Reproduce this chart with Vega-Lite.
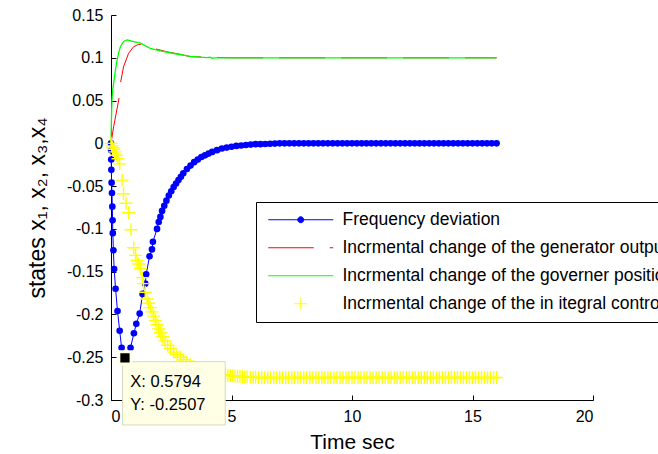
{
  "$schema": "https://vega.github.io/schema/vega-lite/v6.json",
  "autosize": {"type": "none"},
  "width": 482,
  "height": 385,
  "padding": {"left": 111, "top": 15, "right": 65, "bottom": 54},
  "background": "white",
  "config": {
    "font": "Liberation Sans",
    "view": {"stroke": null},
    "axis": {"domainColor": "#000000", "tickColor": "#000000", "labelColor": "#000000", "titleColor": "#000000", "grid": false, "labelFont": "Liberation Sans", "titleFont": "Liberation Sans", "labelFontSize": 16, "titleFontSize": 20, "titleFontWeight": "normal", "tickSize": -5, "domainWidth": 1, "tickWidth": 1}
  },
  "datasets": {
    "freq": [
      {"t": 0, "v": 0}, {"t": 0.005, "v": -0.008}, {"t": 0.01, "v": -0.019}, {"t": 0.015, "v": -0.031},
      {"t": 0.025, "v": -0.046}, {"t": 0.04, "v": -0.058}, {"t": 0.055, "v": -0.074}, {"t": 0.065, "v": -0.09},
      {"t": 0.075, "v": -0.105}, {"t": 0.1, "v": -0.125}, {"t": 0.13, "v": -0.147}, {"t": 0.19, "v": -0.17},
      {"t": 0.27, "v": -0.196}, {"t": 0.36, "v": -0.219}, {"t": 0.44, "v": -0.239}, {"t": 0.5794, "v": -0.2507},
      {"t": 0.81, "v": -0.239}, {"t": 0.95, "v": -0.222}, {"t": 1.05, "v": -0.211}, {"t": 1.19, "v": -0.199},
      {"t": 1.31, "v": -0.176}, {"t": 1.42, "v": -0.164}, {"t": 1.46, "v": -0.153}, {"t": 1.6, "v": -0.132},
      {"t": 1.7, "v": -0.124}, {"t": 1.74, "v": -0.115}, {"t": 1.91, "v": -0.1}, {"t": 1.98, "v": -0.092},
      {"t": 2.05, "v": -0.086}, {"t": 2.12, "v": -0.079}, {"t": 2.21, "v": -0.073}, {"t": 2.3, "v": -0.067},
      {"t": 2.4, "v": -0.061}, {"t": 2.5, "v": -0.056}, {"t": 2.6, "v": -0.051}, {"t": 2.7, "v": -0.047},
      {"t": 2.8, "v": -0.043}, {"t": 2.9, "v": -0.039}, {"t": 3.0, "v": -0.035}, {"t": 3.15, "v": -0.03},
      {"t": 3.3, "v": -0.026}, {"t": 3.45, "v": -0.022}, {"t": 3.6, "v": -0.019}, {"t": 3.75, "v": -0.016},
      {"t": 3.9, "v": -0.014}, {"t": 4.05, "v": -0.012}, {"t": 4.2, "v": -0.01}, {"t": 4.4, "v": -0.008},
      {"t": 4.6, "v": -0.006}, {"t": 4.8, "v": -0.005}, {"t": 5.0, "v": -0.004}, {"t": 5.2, "v": -0.003},
      {"t": 5.4, "v": -0.0025}, {"t": 5.6, "v": -0.002}, {"t": 5.8, "v": -0.0015}, {"t": 6.0, "v": -0.001},
      {"t": 6.2, "v": -0.001}, {"t": 6.4, "v": -0.0008}, {"t": 6.6, "v": -0.0005}, {"t": 6.8, "v": -0.0003},
      {"t": 7.0, "v": 0}, {"t": 7.2, "v": 0}, {"t": 7.4, "v": 0}, {"t": 7.6, "v": 0}, {"t": 7.8, "v": 0},
      {"t": 8.0, "v": 0}, {"t": 8.2, "v": 0}, {"t": 8.4, "v": 0}, {"t": 8.6, "v": 0}, {"t": 8.8, "v": 0},
      {"t": 9.0, "v": 0}, {"t": 9.2, "v": 0}, {"t": 9.4, "v": 0}, {"t": 9.6, "v": 0}, {"t": 9.8, "v": 0},
      {"t": 10.0, "v": 0}, {"t": 10.2, "v": 0}, {"t": 10.4, "v": 0}, {"t": 10.6, "v": 0}, {"t": 10.8, "v": 0},
      {"t": 11.0, "v": 0}, {"t": 11.2, "v": 0}, {"t": 11.4, "v": 0}, {"t": 11.6, "v": 0}, {"t": 11.8, "v": 0},
      {"t": 12.0, "v": 0}, {"t": 12.2, "v": 0}, {"t": 12.4, "v": 0}, {"t": 12.6, "v": 0}, {"t": 12.8, "v": 0},
      {"t": 13.0, "v": 0}, {"t": 13.2, "v": 0}, {"t": 13.4, "v": 0}, {"t": 13.6, "v": 0}, {"t": 13.8, "v": 0},
      {"t": 14.0, "v": 0}, {"t": 14.2, "v": 0}, {"t": 14.4, "v": 0}, {"t": 14.6, "v": 0}, {"t": 14.8, "v": 0},
      {"t": 15.0, "v": 0}, {"t": 15.2, "v": 0}, {"t": 15.4, "v": 0}, {"t": 15.6, "v": 0}, {"t": 15.8, "v": 0},
      {"t": 16.0, "v": 0}
    ],
    "gen": [
      {"t": 0, "v": 0}, {"t": 0.11, "v": 0.0195}, {"t": 0.32, "v": 0.0507}, {"t": 0.39, "v": 0.07},
      {"t": 0.52, "v": 0.0896}, {"t": 0.73, "v": 0.1052}, {"t": 0.94, "v": 0.113}, {"t": 1.15, "v": 0.1157},
      {"t": 1.42, "v": 0.115}, {"t": 1.77, "v": 0.111}, {"t": 2.32, "v": 0.107}, {"t": 2.88, "v": 0.104},
      {"t": 3.29, "v": 0.1013}, {"t": 4.26, "v": 0.1005}, {"t": 5.0, "v": 0.1}, {"t": 16.0, "v": 0.1}
    ],
    "gov": [
      {"t": 0, "v": 0}, {"t": 0.02, "v": 0.03}, {"t": 0.04, "v": 0.0507}, {"t": 0.07, "v": 0.062},
      {"t": 0.11, "v": 0.07}, {"t": 0.18, "v": 0.085}, {"t": 0.25, "v": 0.097}, {"t": 0.32, "v": 0.106},
      {"t": 0.39, "v": 0.113}, {"t": 0.52, "v": 0.119}, {"t": 0.66, "v": 0.1208}, {"t": 0.8, "v": 0.12},
      {"t": 0.94, "v": 0.119}, {"t": 1.22, "v": 0.117}, {"t": 1.63, "v": 0.111}, {"t": 2.05, "v": 0.108},
      {"t": 2.6, "v": 0.105}, {"t": 3.29, "v": 0.1016}, {"t": 3.98, "v": 0.1001}, {"t": 4.1, "v": 0.1006},
      {"t": 4.2, "v": 0.0995}, {"t": 4.3, "v": 0.1}, {"t": 16.0, "v": 0.1}
    ],
    "integ": [
      {"t": 0, "v": 0}, {"t": 0.03, "v": -0.003}, {"t": 0.07, "v": -0.005}, {"t": 0.11, "v": -0.007},
      {"t": 0.16, "v": -0.01}, {"t": 0.22, "v": -0.014}, {"t": 0.29, "v": -0.018}, {"t": 0.36, "v": -0.024},
      {"t": 0.46, "v": -0.043}, {"t": 0.52, "v": -0.059}, {"t": 0.62, "v": -0.07}, {"t": 0.73, "v": -0.081},
      {"t": 0.83, "v": -0.101}, {"t": 0.94, "v": -0.122}, {"t": 1.02, "v": -0.131}, {"t": 1.08, "v": -0.137},
      {"t": 1.15, "v": -0.141}, {"t": 1.22, "v": -0.146}, {"t": 1.3, "v": -0.157}, {"t": 1.35, "v": -0.164},
      {"t": 1.42, "v": -0.174}, {"t": 1.5, "v": -0.182}, {"t": 1.56, "v": -0.187}, {"t": 1.63, "v": -0.192},
      {"t": 1.7, "v": -0.197}, {"t": 1.77, "v": -0.202}, {"t": 1.84, "v": -0.207}, {"t": 1.91, "v": -0.212},
      {"t": 1.98, "v": -0.217}, {"t": 2.05, "v": -0.221}, {"t": 2.15, "v": -0.226}, {"t": 2.25, "v": -0.231},
      {"t": 2.35, "v": -0.236}, {"t": 2.46, "v": -0.24}, {"t": 2.6, "v": -0.244}, {"t": 2.74, "v": -0.247},
      {"t": 2.88, "v": -0.25}, {"t": 3.01, "v": -0.253}, {"t": 3.15, "v": -0.256}, {"t": 3.29, "v": -0.259},
      {"t": 3.4, "v": -0.2605}, {"t": 3.5, "v": -0.262}, {"t": 3.6, "v": -0.2635}, {"t": 3.71, "v": -0.265},
      {"t": 3.8, "v": -0.266}, {"t": 3.9, "v": -0.267}, {"t": 4.0, "v": -0.2675}, {"t": 4.1, "v": -0.268},
      {"t": 4.2, "v": -0.2685}, {"t": 4.33, "v": -0.269}, {"t": 4.45, "v": -0.2695}, {"t": 4.55, "v": -0.27},
      {"t": 4.65, "v": -0.2705}, {"t": 4.75, "v": -0.271}, {"t": 4.85, "v": -0.2712}, {"t": 4.95, "v": -0.2715},
      {"t": 5.05, "v": -0.2717}, {"t": 5.15, "v": -0.272}, {"t": 5.25, "v": -0.2722}, {"t": 5.35, "v": -0.2725},
      {"t": 5.45, "v": -0.2727}, {"t": 5.55, "v": -0.273}, {"t": 5.65, "v": -0.2731}, {"t": 5.78, "v": -0.2733},
      {"t": 5.9, "v": -0.2734}, {"t": 6.0, "v": -0.2735},
      {"t": 6.125, "v": -0.2737}, {"t": 6.25, "v": -0.2737}, {"t": 6.375, "v": -0.2737}, {"t": 6.5, "v": -0.2737},
      {"t": 6.625, "v": -0.2737}, {"t": 6.75, "v": -0.2737}, {"t": 6.875, "v": -0.2737}, {"t": 7.0, "v": -0.2737},
      {"t": 7.125, "v": -0.2737}, {"t": 7.25, "v": -0.2737}, {"t": 7.375, "v": -0.2737}, {"t": 7.5, "v": -0.2737},
      {"t": 7.625, "v": -0.2737}, {"t": 7.75, "v": -0.2737}, {"t": 7.875, "v": -0.2737}, {"t": 8.0, "v": -0.2737},
      {"t": 8.125, "v": -0.2737}, {"t": 8.25, "v": -0.2737}, {"t": 8.375, "v": -0.2737}, {"t": 8.5, "v": -0.2737},
      {"t": 8.625, "v": -0.2737}, {"t": 8.75, "v": -0.2737}, {"t": 8.875, "v": -0.2737}, {"t": 9.0, "v": -0.2737},
      {"t": 9.125, "v": -0.2737}, {"t": 9.25, "v": -0.2737}, {"t": 9.375, "v": -0.2737}, {"t": 9.5, "v": -0.2737},
      {"t": 9.625, "v": -0.2737}, {"t": 9.75, "v": -0.2737}, {"t": 9.875, "v": -0.2737}, {"t": 10.0, "v": -0.2737},
      {"t": 10.125, "v": -0.2737}, {"t": 10.25, "v": -0.2737}, {"t": 10.375, "v": -0.2737}, {"t": 10.5, "v": -0.2737},
      {"t": 10.625, "v": -0.2737}, {"t": 10.75, "v": -0.2737}, {"t": 10.875, "v": -0.2737}, {"t": 11.0, "v": -0.2737},
      {"t": 11.125, "v": -0.2737}, {"t": 11.25, "v": -0.2737}, {"t": 11.375, "v": -0.2737}, {"t": 11.5, "v": -0.2737},
      {"t": 11.625, "v": -0.2737}, {"t": 11.75, "v": -0.2737}, {"t": 11.875, "v": -0.2737}, {"t": 12.0, "v": -0.2737},
      {"t": 12.125, "v": -0.2737}, {"t": 12.25, "v": -0.2737}, {"t": 12.375, "v": -0.2737}, {"t": 12.5, "v": -0.2737},
      {"t": 12.625, "v": -0.2737}, {"t": 12.75, "v": -0.2737}, {"t": 12.875, "v": -0.2737}, {"t": 13.0, "v": -0.2737},
      {"t": 13.125, "v": -0.2737}, {"t": 13.25, "v": -0.2737}, {"t": 13.375, "v": -0.2737}, {"t": 13.5, "v": -0.2737},
      {"t": 13.625, "v": -0.2737}, {"t": 13.75, "v": -0.2737}, {"t": 13.875, "v": -0.2737}, {"t": 14.0, "v": -0.2737},
      {"t": 14.125, "v": -0.2737}, {"t": 14.25, "v": -0.2737}, {"t": 14.375, "v": -0.2737}, {"t": 14.5, "v": -0.2737},
      {"t": 14.625, "v": -0.2737}, {"t": 14.75, "v": -0.2737}, {"t": 14.875, "v": -0.2737}, {"t": 15.0, "v": -0.2737},
      {"t": 15.125, "v": -0.2737}, {"t": 15.25, "v": -0.2737}, {"t": 15.375, "v": -0.2737}, {"t": 15.5, "v": -0.2737},
      {"t": 15.625, "v": -0.2737}, {"t": 15.75, "v": -0.2737}, {"t": 15.875, "v": -0.2737}, {"t": 16.0, "v": -0.2737}
    ],
    "series": [
      {"series": "Frequency deviation"},
      {"series": "Incrmental change of the generator output"},
      {"series": "Incrmental change of the governer position"},
      {"series": "Incrmental change of the in itegral controller"}
    ],
    "tipbox": [{"x": 0.48, "x2": 4.74, "y": -0.2552, "y2": -0.3292}],
    "tippoint": [{"t": 0.5794, "v": -0.2507}],
    "tiptext": [
      {"t": 0.8, "v": -0.2844, "label": "X: 0.5794"},
      {"t": 0.8, "v": -0.3117, "label": "Y: -0.2507"}
    ]
  },
  "encoding": {
    "x": {
      "field": "t", "type": "quantitative",
      "scale": {"domain": [0, 20], "nice": false, "zero": false},
      "axis": {"title": "Time sec", "titleFontSize": 21, "values": [0, 5, 10, 15, 20], "labelPadding": 13, "titlePadding": 7, "labelExpr": "'' + datum.value"}
    },
    "y": {
      "field": "v", "type": "quantitative",
      "scale": {"domain": [-0.3, 0.15], "nice": false, "zero": false},
      "axis": {"title": "states  x₁,  x₂,  x₃,x₄", "titleFontSize": 23, "values": [-0.3, -0.25, -0.2, -0.15, -0.1, -0.05, 0, 0.05, 0.1, 0.15], "labelPadding": 13, "titlePadding": 17, "labelExpr": "'' + datum.value"}
    }
  },
  "layer": [
    {
      "data": {"name": "series"},
      "mark": {"type": "point", "opacity": 0, "filled": true},
      "encoding": {
        "x": {"datum": 0, "type": "quantitative"},
        "y": {"datum": 0, "type": "quantitative"},
        "color": {
          "field": "series", "type": "nominal",
          "scale": {
            "domain": ["Frequency deviation", "Incrmental change of the generator output", "Incrmental change of the governer position", "Incrmental change of the in itegral controller"],
            "range": ["#0000ff", "#ff0000", "#00ff00", "#ffff00"]
          },
          "legend": {
            "title": null,
            "orient": "none",
            "legendX": 145,
            "legendY": 187,
            "strokeColor": "#000000",
            "fillColor": "white",
            "padding": 9,
            "rowPadding": 9,
            "labelFontSize": 17.5,
            "labelFont": "Liberation Sans",
            "labelColor": "#000000",
            "labelLimit": 1000,
            "labelOffset": 33,
            "symbolSize": 169,
            "symbolOffset": 27,
            "symbolOpacity": 1,
            "symbolStrokeWidth": 1,
            "encode": {
              "symbols": {
                "update": {
                  "stroke": {"scale": "color", "field": "value"},
                  "fill": {"scale": "color", "field": "value"},
                  "opacity": {"value": 1},
                  "strokeWidth": {"value": 1}
                }
              }
            }
          }
        },
        "shape": {
          "field": "series", "type": "nominal",
          "scale": {
            "domain": ["Frequency deviation", "Incrmental change of the generator output", "Incrmental change of the governer position", "Incrmental change of the in itegral controller"],
            "range": [
              "M-5,0H5M0.46,0A0.46,0.46,0,1,1,-0.46,0A0.46,0.46,0,1,1,0.46,0Z",
              "M-5,0H2M4.46,0H5",
              "M-5,0H5",
              "M-1,0H1M0,-1V1"
            ]
          }
        }
      }
    },
    {
      "data": {"name": "freq"},
      "mark": {"type": "line", "color": "#0000ff", "strokeWidth": 1},
      "encoding": {}
    },
    {
      "data": {"name": "freq"},
      "mark": {"type": "point", "shape": "circle", "filled": true, "color": "#0000ff", "size": 44, "opacity": 1},
      "encoding": {}
    },
    {
      "data": {"name": "gen"},
      "mark": {"type": "line", "color": "#ff0000", "strokeWidth": 1, "strokeDash": [46, 16]},
      "encoding": {}
    },
    {
      "data": {"name": "gov"},
      "mark": {"type": "line", "color": "#00ff00", "strokeWidth": 1.3},
      "encoding": {}
    },
    {
      "data": {"name": "integ"},
      "mark": {"type": "point", "shape": "M-1,0H1M0,-1V1", "filled": false, "color": "#ffff00", "size": 169, "strokeWidth": 1.4, "opacity": 1},
      "encoding": {}
    },
    {
      "data": {"name": "tipbox"},
      "mark": {"type": "rect", "fill": "#ffffe5", "stroke": "#d8d8c0", "strokeWidth": 1},
      "encoding": {
        "x": {"field": "x", "type": "quantitative"},
        "x2": {"field": "x2"},
        "y": {"field": "y", "type": "quantitative"},
        "y2": {"field": "y2"}
      }
    },
    {
      "data": {"name": "tippoint"},
      "mark": {"type": "point", "shape": "square", "filled": true, "fill": "#000000", "stroke": "#ffffe5", "strokeWidth": 3, "size": 150, "opacity": 1},
      "encoding": {}
    },
    {
      "data": {"name": "tiptext"},
      "mark": {"type": "text", "align": "left", "baseline": "alphabetic", "fontSize": 16.5, "font": "Liberation Sans", "color": "#000000"},
      "encoding": {"text": {"field": "label"}}
    }
  ]
}
